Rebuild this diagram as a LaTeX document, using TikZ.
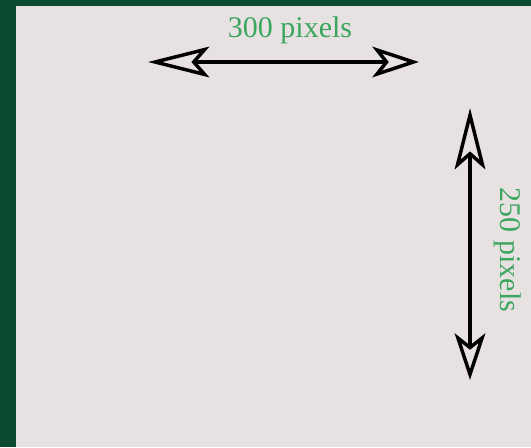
\documentclass[tikz,border=0pt]{standalone}
\usepackage{fontspec}
\setmainfont{Liberation Serif}
\usetikzlibrary{arrows.meta}
\definecolor{frame}{HTML}{0B4A2E}
\definecolor{paper}{HTML}{E8E1E1}
\definecolor{lbl}{HTML}{3AA65E}
\tikzset{
  dim/.style={line width=2.6pt, draw=black,
    {Stealth[open,fill=paper,length=46pt,width=23pt,inset=10pt]}-{Stealth[open,fill=paper,length=35pt,width=23pt,inset=9pt]}},
  lab/.style={text=lbl, font=\fontsize{22.5}{26}\selectfont, inner sep=0pt}
}
\begin{document}
\begin{tikzpicture}[x=0.75pt,y=-0.75pt]
\useasboundingbox (0,0) rectangle (531,447);
\fill[frame] (0,0) rectangle (531,447);
\fill[paper] (16,6) rectangle (531,447);
\coordinate (hl) at (148,62);
\coordinate (hr) at (419,62);
\coordinate (vt) at (470,108);
\coordinate (vb) at (470,380);
\draw[dim] (hl) -- (hr);
\draw[dim] (vt) -- (vb);
\node[lab] (t1) at (290,30) {300 pixels};
\node[lab, rotate=-90] (t2) at (508,250) {250 pixels};
\end{tikzpicture}
\end{document}
